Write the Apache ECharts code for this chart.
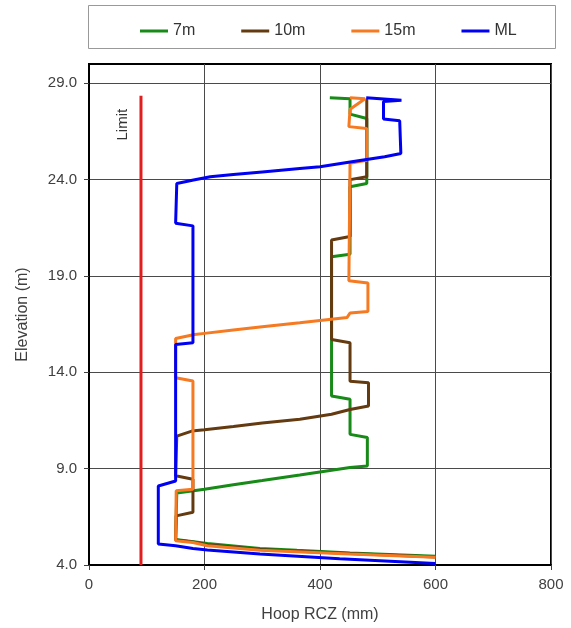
<!DOCTYPE html>
<html><head><meta charset="utf-8">
<script src="https://cdn.jsdelivr.net/npm/echarts@6/dist/echarts.min.js"></script>
<style>html,body{margin:0;padding:0;background:#fff}#c{width:571px;height:628px}</style>
</head><body><div id="c"></div>
<script>
const seriesNames = ['7m', '10m', '15m', 'ML'];
const xTicks = [0, 200, 400, 600, 800];
const yTicks = [4, 9, 14, 19, 24, 29];

// [Hoop RCZ (mm), Elevation (m)]
const rcz7m = [[417,28.25],[452,28.2],[452,27.4],[455,27.34],[481,27.17],[481,23.8],[452,23.63],[452,20.13],[420,20.0],[420,12.77],[452,12.6],[452,10.78],[482,10.62],[482,9.14],[452,9.06],[423,8.93],[394,8.8],[365,8.67],[300,8.38],[250,8.16],[200,7.93],[181,7.85],[152,7.73],[150,5.32],[205,5.12],[296,4.86],[360,4.76],[452,4.62],[600,4.45]];
const rcz10m = [[481,28.2],[481,24.15],[452,24.0],[452,21.05],[420,20.87],[420,15.7],[452,15.53],[452,13.54],[484,13.46],[484,12.25],[452,12.07],[420,11.82],[365,11.56],[300,11.37],[250,11.19],[200,11.02],[178,10.95],[152,10.69],[150,8.63],[180,8.45],[180,6.74],[151,6.55],[150,5.3],[180,5.2],[205,5.05],[296,4.8],[452,4.6],[600,4.42]];
const rcz15m = [[452,28.25],[478,28.2],[452,27.65],[450,26.75],[481,26.65],[481,25.0],[452,24.85],[450,18.75],[483,18.63],[483,17.16],[452,17.08],[447,16.85],[400,16.69],[365,16.57],[300,16.36],[250,16.19],[200,16.02],[183,15.96],[150,15.75],[150,13.72],[180,13.55],[180,7.93],[151,7.85],[150,5.26],[180,5.17],[205,5.0],[296,4.76],[452,4.57],[600,4.4]];
const rczML = [[480,28.25],[541,28.12],[510,28.05],[510,27.15],[538,27.05],[540,25.36],[512,25.19],[455,24.93],[400,24.67],[365,24.58],[300,24.4],[250,24.26],[210,24.15],[181,23.98],[152,23.8],[150,21.74],[180,21.6],[180,15.53],[150,15.44],[150,8.36],[120,8.1],[120,5.09],[150,5.0],[180,4.86],[205,4.78],[296,4.57],[434,4.32],[600,4.08]];
const limitX = 90;
const limitTop = 28.35;
const limitLine = [[limitX, 4], [limitX, limitTop]];
const limitLabel = 'Limit';
const limitLabelY = 26.85;

const colors = ['#178a17', '#643a10', '#f57a22', '#0000f2'];
const dataSets = [rcz7m, rcz10m, rcz15m, rczML];

const chart = echarts.init(document.getElementById('c'), null, {renderer: 'canvas'});
const font = 'Liberation Sans, Arial, sans-serif';

const series = [{
  name: 'Limit', type: 'line', data: limitLine, symbol: 'none', silent: true,
  lineStyle: {color: '#e21d1d', width: 3}, z: 2
}];
dataSets.forEach((d, i) => series.push({
  name: seriesNames[i], type: 'line', data: d, symbol: 'none', silent: true,
  lineStyle: {color: colors[i], width: 3}, itemStyle: {color: colors[i]}, z: 3 + i
}));

const boxRect = {
  type: 'rect', shape: {x: 88.5, y: 5.5, width: 467, height: 43},
  style: {fill: 'none', stroke: '#999', lineWidth: 1}, silent: true
};

chart.setOption({
  animation: false,
  backgroundColor: '#fff',
  textStyle: {fontFamily: font},
  grid: {left: 89, right: 20, top: 64, bottom: 62, show: true, borderColor: '#000', borderWidth: 2, backgroundColor: 'transparent'},
  legend: {
    data: seriesNames, left: 135, top: 18, itemWidth: 28, itemHeight: 14, itemGap: 46,
    icon: 'path://M0,5.5 L28,5.5 L28,8.5 L0,8.5 Z',
    textStyle: {fontSize: 16, color: '#333', fontFamily: font}
  },
  graphic: [boxRect],
  xAxis: {
    type: 'value', min: 0, max: 800, interval: 200,
    name: 'Hoop RCZ (mm)', nameLocation: 'middle', nameGap: 42,
    nameTextStyle: {fontSize: 16, color: '#404040', fontFamily: font},
    axisLine: {show: true, lineStyle: {color: '#000', width: 2}},
    axisTick: {show: true, length: 5, lineStyle: {color: '#404040'}, customValues: xTicks},
    axisLabel: {fontSize: 15, color: '#404040', margin: 12, customValues: xTicks},
    splitLine: {show: true, lineStyle: {color: '#4a4a4a', width: 1}}
  },
  yAxis: {
    type: 'value', min: 4, max: 30, interval: 5,
    name: 'Elevation (m)', nameLocation: 'middle', nameGap: 58, nameRotate: 90,
    nameTextStyle: {fontSize: 16, color: '#404040', fontFamily: font},
    axisLine: {show: true, lineStyle: {color: '#000', width: 2}},
    axisTick: {show: true, length: 5, lineStyle: {color: '#404040'}, customValues: yTicks},
    axisLabel: {fontSize: 15, color: '#404040', margin: 12, customValues: yTicks, formatter: v => v.toFixed(1)},
    splitLine: {show: true, lineStyle: {color: '#4a4a4a', width: 1}}
  },
  series: series
});

const lp = chart.convertToPixel({gridIndex: 0}, [limitX, limitLabelY]);
chart.setOption({
  graphic: [boxRect, {
    type: 'text', x: lp[0] - 18, y: lp[1], rotation: Math.PI / 2,
    style: {text: limitLabel, font: '15px ' + font, fill: '#333', align: 'center', verticalAlign: 'middle'},
    silent: true
  }]
});
</script></body></html>
